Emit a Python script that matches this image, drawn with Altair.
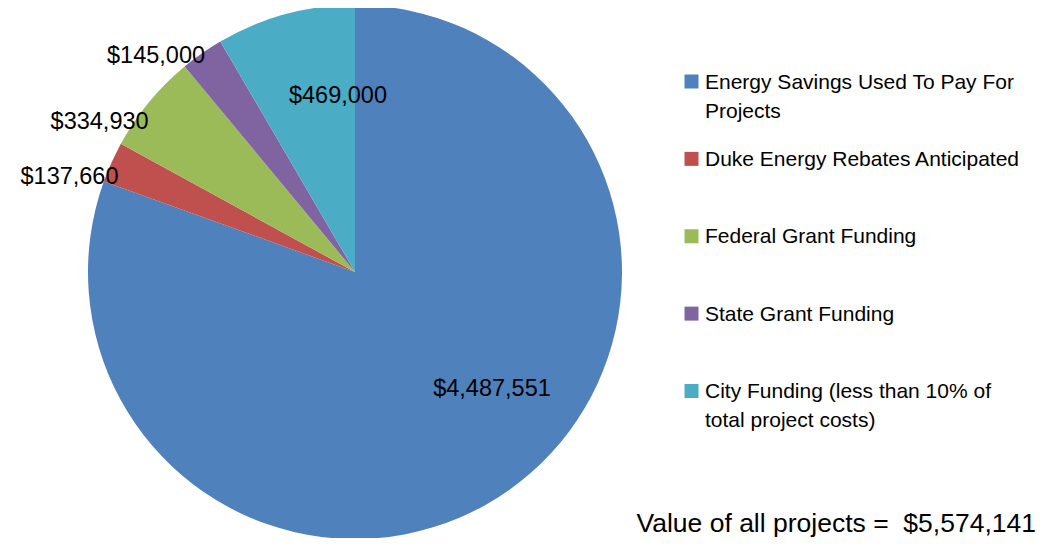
import math
import altair as alt
import pandas as pd

# ---- data ----
categories = [
    "Energy Savings Used To Pay For Projects",
    "Duke Energy Rebates Anticipated",
    "Federal Grant Funding",
    "State Grant Funding",
    "City Funding (less than 10% of total project costs)",
]
legend_text = [
    "Energy Savings Used To Pay For\nProjects",
    "Duke Energy Rebates Anticipated",
    "Federal Grant Funding",
    "State Grant Funding",
    "City Funding (less than 10% of\ntotal project costs)",
]
values = [4487551, 137660, 334930, 145000, 469000]
value_labels = ["$4,487,551", "$137,660", "$334,930", "$145,000", "$469,000"]
colors = ["#4F81BD", "#C0504D", "#9BBB59", "#8064A2", "#4BACC6"]
total_text = ["Value of all projects = \u00a0$5,574,141"]

# ---- styling / layout ----
FONT = "Liberation Sans"
CX, CY, R = 347, 264, 267
# (label radius, dx, dy) per slice label
label_style = [(160, 45, -14), (300, -12, 28), (300, -24, 41), (300, -27, 30), (180, 30, -2)]

df = pd.DataFrame({
    "category": categories,
    "legend": legend_text,
    "value": values,
    "label": value_labels,
    "idx": list(range(len(categories))),
})
total = float(sum(values))

base = alt.Chart(df)
color = alt.Color("category:N", scale=alt.Scale(domain=categories, range=colors), legend=None)

pie = base.mark_arc(outerRadius=R).encode(
    theta=alt.Theta("value:Q", stack=True),
    color=color,
    order=alt.Order("idx:Q"),
    x=alt.value(CX),
    y=alt.value(CY),
)

label_layers = []
for cat, (rad, dx, dy) in zip(categories, label_style):
    lyr = (
        base.transform_window(cum="sum(value)", sort=[alt.SortField("idx")], frame=[None, 0])
        .transform_calculate(mid="datum.cum - datum.value / 2")
        .transform_filter(alt.datum.category == cat)
        .mark_text(radius=rad, dx=dx, dy=dy, font=FONT, fontSize=23.5, color="#000",
                   align="center", baseline="middle")
        .encode(
            theta=alt.Theta("mid:Q", stack=None,
                            scale=alt.Scale(domain=[0, total], range=[0, 2 * math.pi])),
            text="label:N",
            x=alt.value(CX),
            y=alt.value(CY),
        )
    )
    label_layers.append(lyr)

row_y = alt.Y("idx:Q", scale=alt.Scale(domain=[0, 4], range=[73.5, 383]), axis=None)

leg_sq = base.mark_square(size=196, filled=True, opacity=1).encode(
    x=alt.value(683.5), y=row_y, color=color
)
leg_tx = base.mark_text(
    align="left", baseline="alphabetic", dy=7, lineBreak="\n", lineHeight=29,
    font=FONT, fontSize=21, color="#000"
).encode(x=alt.value(697), y=row_y, text="legend:N")

tot = alt.Chart(pd.DataFrame({"t": total_text})).mark_text(
    align="right", baseline="alphabetic", font=FONT, fontSize=26.5, color="#000"
).encode(x=alt.value(1028), y=alt.value(524), text="t:N")

chart = (
    alt.layer(pie, *label_layers, leg_sq, leg_tx, tot)
    .resolve_scale(theta="independent")
    .properties(width=1028, height=530, padding=0,
                autosize=alt.AutoSizeParams(type="none"))
    .configure_view(stroke=None)
)

chart.save("out.html", embed_options={"renderer": "svg", "actions": False})
